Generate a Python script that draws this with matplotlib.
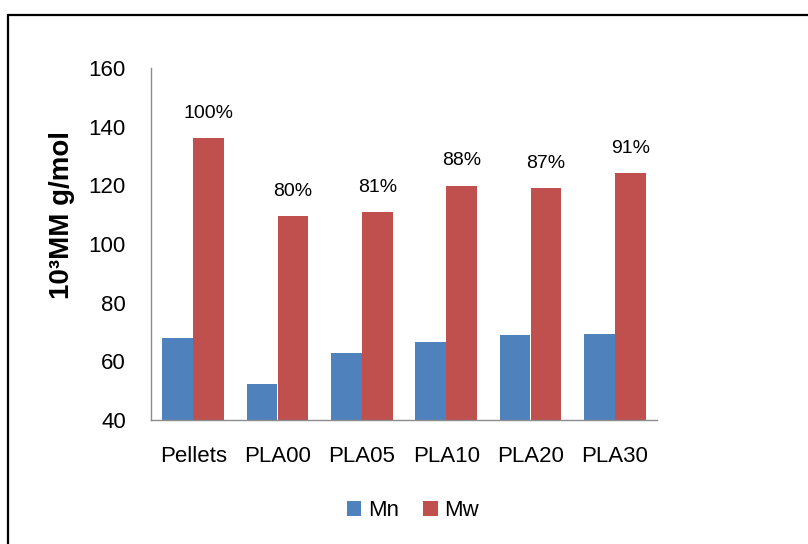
import matplotlib
matplotlib.use("Agg")
import matplotlib.pyplot as plt
from matplotlib.patches import Rectangle
import numpy as np

categories = ["Pellets", "PLA00", "PLA05", "PLA10", "PLA20", "PLA30"]
mn_values = [68.0, 52.3, 62.8, 66.6, 69.0, 69.3]
mw_values = [136.0, 109.5, 110.9, 119.8, 119.1, 124.2]
mw_labels = ["100%", "80%", "81%", "88%", "87%", "91%"]

BLUE = "#4f81bd"
RED = "#c0504d"

plt.rcParams["font.family"] = ["Liberation Sans", "DejaVu Sans"]

fig = plt.figure(figsize=(8.08, 5.44), dpi=100)
W, H = 808, 544
ax = fig.add_axes([151 / W, 1 - 420 / H, (657 - 151) / W, (420 - 68) / H])

# outer chart frame (cut off at right and bottom in the original)
fig.patches.append(Rectangle((8 / W, -0.1), 1.2, 1 - 15 / H + 0.1,
                             transform=fig.transFigure, fill=False,
                             edgecolor="black", linewidth=1.6))

x = np.arange(len(categories))
w = 0.365
ax.bar(x - w / 2, mn_values, w, color=BLUE, label="Mn")
ax.bar(x + w / 2, mw_values, w, color=RED, label="Mw")

for xi, v, lab in zip(x, mw_values, mw_labels):
    ax.text(xi + w / 2, v + 8.5, lab, ha="center", va="center", fontsize=14)

ax.set_xlim(-0.5, len(categories) - 0.5)
ax.set_ylim(40, 160)
ax.set_yticks(range(40, 161, 20))
ax.set_xticks(x)
ax.set_xticklabels(categories)
ax.tick_params(axis="both", length=0, labelsize=16)
ax.tick_params(axis="y", pad=18)
ax.tick_params(axis="x", pad=19)
for side in ("top", "right"):
    ax.spines[side].set_visible(False)
for side in ("left", "bottom"):
    ax.spines[side].set_color("#8c8c8c")
    ax.spines[side].set_linewidth(1.0)

fig.text(62 / W, 1 - 215 / H, "10³MM g/mol", rotation=90, ha="center",
         va="center", fontsize=20, fontweight="bold")

ax.legend(loc="center", bbox_to_anchor=(413 / W, 1 - 511 / H),
          bbox_transform=fig.transFigure, ncol=2, frameon=False,
          fontsize=16, handlelength=0.65, handleheight=0.65,
          handletextpad=0.3, columnspacing=1.1)

fig.savefig("out.png", dpi=100)
